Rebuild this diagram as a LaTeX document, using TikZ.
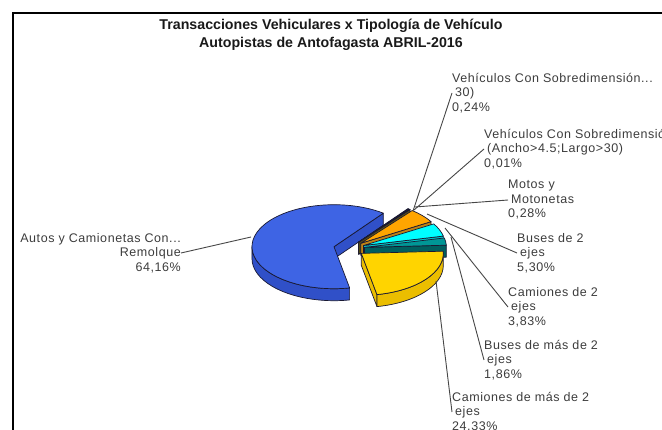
\documentclass[tikz,border=0pt]{standalone}
\usepackage{fontspec}
\setmainfont{Liberation Sans}
\usetikzlibrary{positioning}
\definecolor{autosblue}{RGB}{62,100,228}
\definecolor{autosside}{RGB}{48,80,200}
\definecolor{camyellow}{RGB}{255,212,0}
\definecolor{camside}{RGB}{235,190,0}
\definecolor{busorange}{RGB}{255,165,0}
\definecolor{busoside}{RGB}{190,130,20}
\definecolor{camcyan}{RGB}{0,255,255}
\definecolor{camcside}{RGB}{0,200,200}
\definecolor{busteal}{RGB}{0,150,150}
\definecolor{bustside}{RGB}{0,95,95}
\definecolor{sobrenavy}{RGB}{20,20,40}
\definecolor{sobreplum}{RGB}{80,20,70}
\definecolor{motoolive}{RGB}{90,80,20}
\definecolor{edgecol}{RGB}{25,25,50}
\definecolor{labelgray}{RGB}{60,60,60}
\definecolor{leadgray}{RGB}{70,70,70}
\tikzset{
  lbl/.style={inner sep=0pt, align=left, text=labelgray,
    font=\fontsize{12.5}{14.5}\selectfont\addfontfeatures{LetterSpace=4.5}},
  titletext/.style={inner sep=0pt, text=black!90,
    font=\bfseries\fontsize{14.2}{16}\selectfont},
  leader/.style={draw=leadgray, line width=0.9pt},
  slice/.style={draw=edgecol, line width=0.7pt, line join=round},
}
\def\piea{82}
\def\pieb{42}
\def\pieh{12}
\newcommand{\pieslice}[6]{%
  \pgfmathsetmacro{\midang}{(#1+#2)/2}
  \pgfmathsetmacro{\cx}{349.1+15.5*cos(\midang)}
  \pgfmathsetmacro{\cy}{-248.5+15.5*\pieb/\piea*sin(\midang)}
  \begin{scope}[shift={(\cx,\cy)}]
    \pgfmathtruncatemacro{\facevis}{cos(#1)>0}
    \ifnum\facevis=1
      \filldraw[slice, fill=#6] (0,0) -- ({\piea*cos(#1)},{\pieb*sin(#1)}) -- ++(0,-\pieh) -- (0,-\pieh) -- cycle;
    \fi
    \pgfmathtruncatemacro{\wallvis}{#3<#4}
    \ifnum\wallvis=1
      \filldraw[slice, fill=#6] ({\piea*cos(#3)},{\pieb*sin(#3)}) arc[start angle=#3, end angle=#4, x radius=\piea, y radius=\pieb]
        -- ++(0,-\pieh) arc[start angle=#4, end angle=#3, x radius=\piea, y radius=\pieb] -- cycle;
    \fi
    \filldraw[slice, fill=#5] (0,0) -- ({\piea*cos(#1)},{\pieb*sin(#1)}) arc[start angle=#1, end angle=#2, x radius=\piea, y radius=\pieb] -- cycle;
  \end{scope}}

\begin{document}
\begin{tikzpicture}[x=1pt, y=1pt]
  \useasboundingbox (0,0) rectangle (662,-430);
  \draw[line width=2pt] (13,-431) -- (13,-13) -- (663,-13);

  \node[titletext] (title1) at (331,-25.5) {Transacciones Vehiculares x Tipología de Vehículo};
  \node[titletext, below=5pt of title1] (title2) {Autopistas de Antofagasta ABRIL-2016};

  \pieslice{53}{281}{180}{281}{autosblue}{autosside}
  \pieslice{52.2}{53}{0}{0}{sobrenavy}{sobrenavy}
  \pieslice{52.15}{52.2}{0}{0}{sobreplum}{sobreplum}
  \pieslice{51.2}{52.15}{0}{0}{motoolive}{motoolive}
  \pieslice{31}{51.2}{0}{0}{busorange}{busoside}
  \pieslice{13}{31}{0}{0}{camcyan}{camcside}
  \pieslice{3}{13}{0}{0}{busteal}{bustside}
  \pieslice{-79}{3}{-79}{0}{camyellow}{camside}

  \coordinate (autosrim) at (251,-237);
  \coordinate (sobre1rim) at (413,-211);
  \coordinate (sobre2rim) at (414,-210);
  \coordinate (motosrim) at (415,-207);
  \coordinate (bus2rim) at (427,-214);
  \coordinate (cam2rim) at (445,-228);
  \coordinate (busmasrim) at (451,-237);
  \coordinate (cammasrim) at (436,-281);

  \node[lbl, align=right, anchor=east] (lbl0) at (181,-253) {Autos y Camionetas Con...\\Remolque\\64,16\%};
  \node[lbl, anchor=west] (lbl1) at (452,-93) {Vehículos Con Sobredimensión...\\\hspace*{3pt}30)\\0,24\%};
  \node[lbl, anchor=west] (lbl2) at (484,-149) {Vehículos Con Sobredimensión\\\hspace*{3pt}(Ancho>4.5;Largo>30)\\0,01\%};
  \node[lbl, anchor=west] (lbl3) at (508,-200) {Motos y\\\hspace*{3pt}Motonetas\\0,28\%};
  \node[lbl, anchor=west] (lbl4) at (517,-253) {Buses de 2\\\hspace*{3pt}ejes\\5,30\%};
  \node[lbl, anchor=west] (lbl5) at (508,-307) {Camiones de 2\\\hspace*{3pt}ejes\\3,83\%};
  \node[lbl, anchor=west] (lbl6) at (484,-360) {Buses de más de 2\\\hspace*{3pt}ejes\\1,86\%};
  \node[lbl, anchor=west] (lbl7) at (452,-412) {Camiones de más de 2\\\hspace*{3pt}ejes\\24,33\%};

  \path[leader] (lbl0.east) -- (autosrim);
  \path[leader] (lbl1.west) -- (sobre1rim);
  \path[leader] (lbl2.west) -- (sobre2rim);
  \path[leader] (lbl3.west) -- (motosrim);
  \path[leader] (lbl4.west) -- (bus2rim);
  \path[leader] (lbl5.west) -- (cam2rim);
  \path[leader] (lbl6.west) -- (busmasrim);
  \path[leader] (lbl7.west) -- (cammasrim);
\end{tikzpicture}
\end{document}
